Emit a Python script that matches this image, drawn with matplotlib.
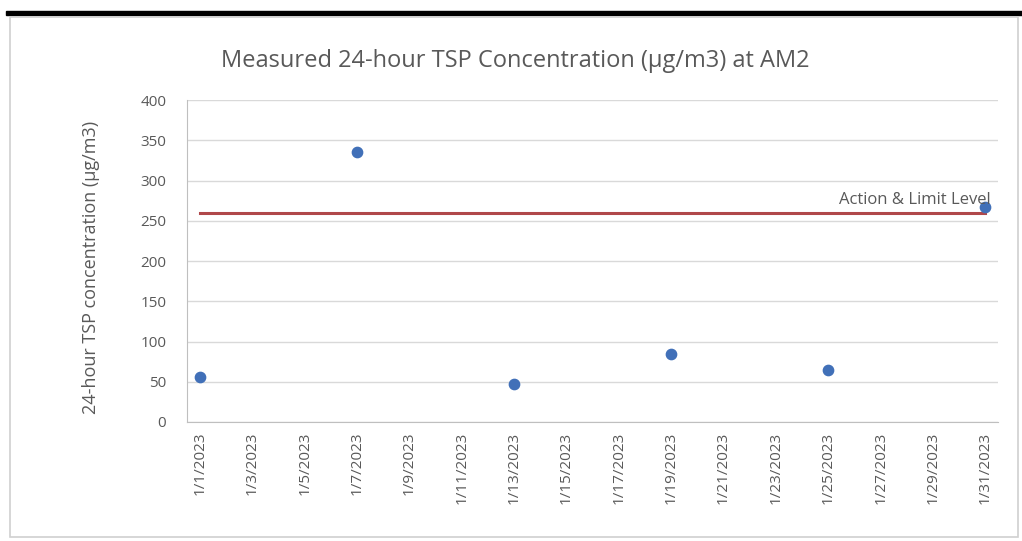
"""Measured 24-hour TSP concentration at AM2, January 2023."""
import matplotlib

matplotlib.use("Agg")
import matplotlib.pyplot as plt
from matplotlib.patches import Rectangle

# measurement days (January 2023) and concentrations in ug/m3
days = [1, 7, 13, 19, 25, 31]
tsp = [56, 336, 47, 84, 64, 267]
limit_level = 260
limit_label = "Action & Limit Level"
tick_days = list(range(1, 32, 2))
tick_labels = [f"1/{d}/2023" for d in tick_days]

TEXT = "#595959"
plt.rcParams["font.family"] = ["Open Sans", "DejaVu Sans"]

fig = plt.figure(figsize=(10.22, 5.41), dpi=100)
# black rule across the top and the grey chart frame, behind the axes
fig.patches.append(Rectangle((6 / 1022, 1 - 15 / 541), 1, 4 / 541, transform=fig.transFigure,
                             color="black", zorder=-2))
fig.patches.append(Rectangle((10 / 1022, 4 / 541), 1008 / 1022, 520 / 541, transform=fig.transFigure,
                             facecolor="white", edgecolor="#d0d0d0", lw=1.2, zorder=-1))

ax = fig.add_axes([0.183, 0.22, 0.794, 0.595])
ax.patch.set_alpha(0)
x = [d - 1 for d in days]
ax.scatter(x, tsp, s=55, color="#4170B8", zorder=3)
ax.plot([0, 30], [limit_level, limit_level], color="#B0484A", lw=2.2, zorder=2)
ax.text(30.2, limit_level + 6, limit_label, ha="right", va="bottom", fontsize=12, color=TEXT)

ax.set_xlim(-0.5, 30.5)
ax.set_ylim(0, 400)
ax.set_yticks(range(0, 401, 50))
ax.set_xticks([d - 1 for d in tick_days])
ax.set_xticklabels(tick_labels, rotation=90)
ax.tick_params(axis="both", length=0, labelsize=11, labelcolor=TEXT)
ax.tick_params(axis="y", pad=15)
ax.tick_params(axis="x", pad=7)
ax.grid(axis="y", color="#d9d9d9", lw=1)
ax.set_axisbelow(True)
for side in ("top", "right"):
    ax.spines[side].set_visible(False)
ax.spines["left"].set_color("#bfbfbf")
ax.spines["bottom"].set_color("#bfbfbf")
ax.set_ylabel("24-hour TSP concentration (μg/m3)", fontsize=13, color=TEXT)
ax.yaxis.set_label_coords(-0.107, 0.48)

fig.text(0.504, 0.888, "Measured 24-hour TSP Concentration (μg/m3) at AM2", ha="center", va="center",
         fontsize=17, color=TEXT)

fig.savefig("out.png", dpi=100)
